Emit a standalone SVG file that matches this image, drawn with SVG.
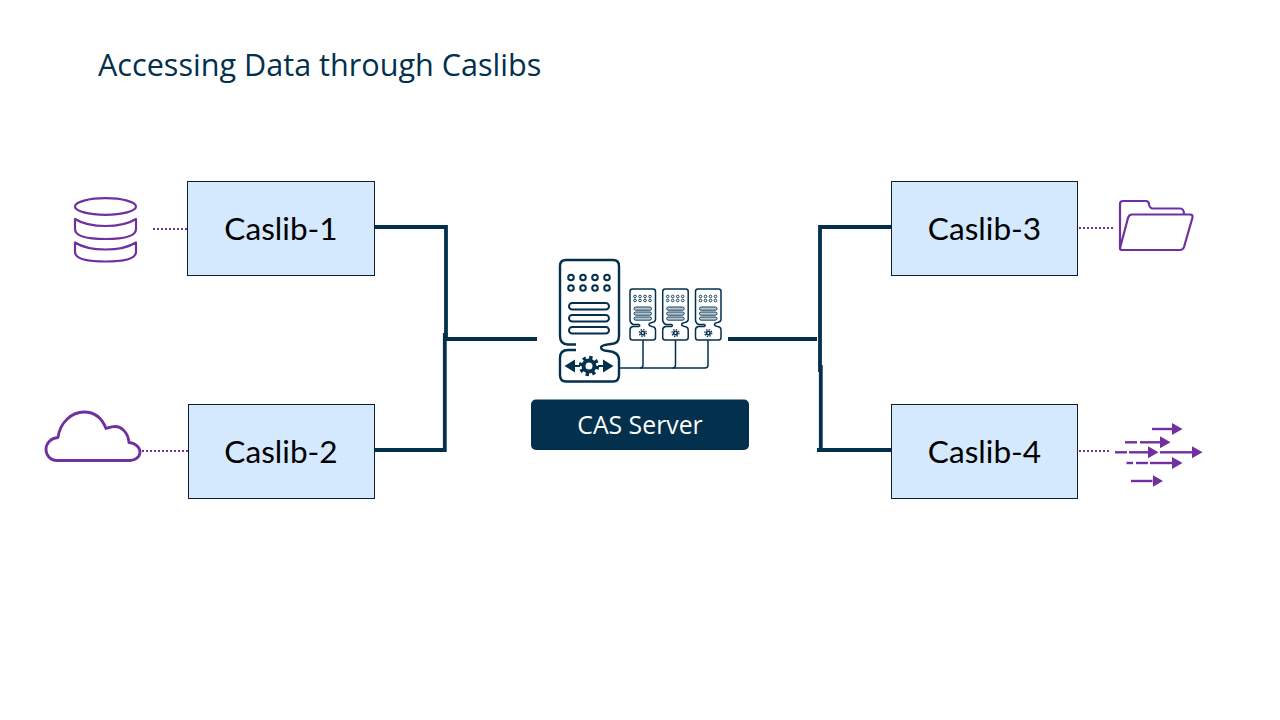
<svg xmlns="http://www.w3.org/2000/svg" xmlns:xlink="http://www.w3.org/1999/xlink" width="1280" height="720" viewBox="0 0 1280 720">
<style>
.box{fill:#d5e9fe;stroke:#0c1f2c;stroke-width:1}
.lbl{font-family:"Lato","Open Sans",sans-serif;font-size:31.6px;fill:#000;text-anchor:middle}
.title{font-family:"Open Sans","Noto Sans",sans-serif;font-size:30.6px;fill:#03304d}
.cas{font-family:"Open Sans","Noto Sans",sans-serif;font-size:24.8px;fill:#fff;text-anchor:middle}
.conn{fill:none;stroke:#03304d;stroke-width:3.8}
.dot{fill:none;stroke:#7030a0;stroke-width:2;stroke-dasharray:2 2}
.pi{fill:none;stroke:#7030a0;stroke-width:2.2;stroke-linejoin:round;stroke-linecap:round}
.pa{fill:none;stroke:#7030a0;stroke-width:2.4}
.srv{fill:none;stroke:#03304d;stroke-width:2.4;stroke-linejoin:round}
.thin{fill:none;stroke:#03304d;stroke-width:1.5;stroke-linejoin:round}
</style>
<defs>
<marker id="ah" markerUnits="userSpaceOnUse" markerWidth="11" markerHeight="13" refX="0" refY="6" orient="auto"><path d="M0,0L10.5,6L0,12Z" fill="#7030a0"/></marker>
<g id="mini">
<path class="thin" d="M2.500,0H23Q25.500,0 25.500,2.500V30Q25.500,33 22,33.500Q19,34 19,35.500Q19,37 22,37.500Q25.500,38 25.500,41V48.500Q25.500,51 23,51H2.500Q0,51 0,48.500V41Q0,38 3,37.500H9Q10.500,36.500 9,35.500H3Q0,34 0,31V2.500Q0,0 2.500,0Z"/>
<g fill="none" stroke="#03304d" stroke-width="0.9"><circle cx="5" cy="7.500" r="1.300"/><circle cx="10" cy="7.500" r="1.300"/><circle cx="15" cy="7.500" r="1.300"/><circle cx="20" cy="7.500" r="1.300"/><circle cx="5" cy="11.500" r="1.300"/><circle cx="10" cy="11.500" r="1.300"/><circle cx="15" cy="11.500" r="1.300"/><circle cx="20" cy="11.500" r="1.300"/></g>
<g fill="#b9c8d2" stroke="#03304d" stroke-width="0.9"><rect x="4" y="18" width="17.500" height="3.200" rx="1.600"/><rect x="4" y="23" width="17.500" height="3.200" rx="1.600"/><rect x="4" y="28" width="17.500" height="3.200" rx="1.600"/></g>
<circle cx="12.800" cy="44" r="2.600" fill="#03304d"/>
<circle cx="12.800" cy="44" r="1" fill="#fff"/>
<circle cx="12.800" cy="44" r="3.500" fill="none" stroke="#03304d" stroke-width="1.200" stroke-dasharray="1.400 1.350"/>
</g>
</defs>

<text class="title" x="98" y="75.500">Accessing Data through Caslibs</text>

<g id="connectors">
<path class="conn" d="M375,227H446V339"/>
<path class="conn" d="M444.800,333V450H375"/>
<path class="conn" d="M446,339H537"/>
<path class="conn" d="M891,227H820V372"/>
<path class="conn" d="M820.800,365V450"/>
<path class="conn" d="M817,450H891"/>
<path class="conn" d="M728,339H817"/>
<path class="dot" d="M153,229H187"/>
<path class="dot" d="M142,451H188"/>
<path class="dot" d="M1079,228H1114"/>
<path class="dot" d="M1079,451H1110"/>
<path class="thin" d="M619,368H705Q708,368 708,365V340"/>
<path class="thin" d="M643,340V365Q643,368 640,368"/>
<path class="thin" d="M675.500,340V365Q675.500,368 672.500,368"/>
</g>

<g id="caslib-1"><rect class="box" x="187.500" y="181.500" width="187" height="94"/><text class="lbl" x="281" y="240">Caslib-1</text></g>
<g id="caslib-2"><rect class="box" x="188.500" y="404.500" width="186" height="94"/><text class="lbl" x="281" y="463">Caslib-2</text></g>
<g id="caslib-3"><rect class="box" x="891.500" y="181.500" width="186" height="94"/><text class="lbl" x="984.500" y="240">Caslib-3</text></g>
<g id="caslib-4"><rect class="box" x="891.500" y="404.500" width="186" height="94"/><text class="lbl" x="984.500" y="463">Caslib-4</text></g>

<g id="cas-server">
<rect x="531" y="399.500" width="218" height="50.500" rx="5" fill="#03304d"/>
<text class="cas" x="640" y="433.500">CAS Server</text>
<path class="srv" d="M566,260H613Q619,260 619,266V336Q619,344 611,344Q601,345 601,347.500Q601,350.500 608,351Q619,352 619,360V375Q619,381.500 613,381.500H566Q560,381.500 560,375V358Q560,350 568,350H576"/>
<path class="srv" d="M576,344.500H568Q560,344.500 560,336V266Q560,260 566,260"/>
<g fill="none" stroke="#03304d" stroke-width="2"><circle cx="571" cy="277.500" r="2.800"/><circle cx="583" cy="277.500" r="2.800"/><circle cx="595" cy="277.500" r="2.800"/><circle cx="607" cy="277.500" r="2.800"/><circle cx="571" cy="288" r="2.800"/><circle cx="583" cy="288" r="2.800"/><circle cx="595" cy="288" r="2.800"/><circle cx="607" cy="288" r="2.800"/></g>
<g fill="none" stroke="#03304d" stroke-width="2"><rect x="569" y="303" width="40" height="6.500" rx="3.250"/><rect x="569" y="315" width="40" height="6.500" rx="3.250"/><rect x="569" y="327" width="40" height="6.500" rx="3.250"/></g>
<circle cx="589" cy="366" r="5.500" fill="none" stroke="#03304d" stroke-width="4"/>
<circle cx="589" cy="366" r="8.500" fill="none" stroke="#03304d" stroke-width="3.400" stroke-dasharray="3.300 3.370"/>
<path d="M564.500,366L575,359.500V372.500Z" fill="#03304d"/>
<path d="M613.500,366L603,359.500V372.500Z" fill="#03304d"/>
<path d="M574,366H580M598,366H604" stroke="#03304d" stroke-width="2"/>
<use xlink:href="#mini" href="#mini" x="630" y="289"/>
<use xlink:href="#mini" href="#mini" x="662.700" y="289"/>
<use xlink:href="#mini" href="#mini" x="695.500" y="289"/>
</g>

<g id="database-icon">
<ellipse class="pi" cx="105.500" cy="206.500" rx="30.500" ry="8.300"/>
<path class="pi" d="M75,219V229Q75,239 105.500,239Q136,239 136,229V219M75,219Q86,226 105.500,226Q125,226 136,219"/>
<path class="pi" d="M75,242.500V252Q75,261.500 105.500,261.500Q136,261.500 136,252V242.500M75,242.500Q86,249.500 105.500,249.500Q125,249.500 136,242.500"/>
</g>

<g id="cloud-icon">
<path class="pi" style="stroke-width:2.800" d="M57,460.500C50,460.500 46,455 46,449.500C46,443 51,438 58,437.500C60,422 72,412 84,412C94,412 102,418 106,428.500C108,428 111,426.500 115,426.500C122,426.500 128,433 129,442.500C135,443 140,447 140,452C140,457 135,460.500 130,460.500Z"/>
</g>

<g id="folder-icon">
<path class="pi" d="M1120,249V204Q1120,201 1123,201H1146Q1148.500,201 1149,204Q1149.500,208.500 1153,208.500H1180Q1184,208.500 1184,214"/>
<path class="pi" d="M1120,248L1128,218Q1129,214.500 1132,214.500H1190Q1193,214.500 1192.500,217.500L1184,247Q1183,250 1180,250H1122Q1120,250 1120,248Z"/>
</g>

<g id="stream-icon">
<path class="pa" marker-end="url(#ah)" d="M1152,429H1172"/>
<path class="pa" d="M1125,442.300H1137"/>
<path class="pa" marker-end="url(#ah)" d="M1140,442.300H1160"/>
<path class="pa" d="M1115,452.300H1127"/>
<path class="pa" marker-end="url(#ah)" d="M1129,452.300H1148"/>
<path class="pa" marker-end="url(#ah)" d="M1160,452.300H1192"/>
<path class="pa" d="M1126.500,463H1133"/>
<path class="pa" d="M1136,463H1148"/>
<path class="pa" marker-end="url(#ah)" d="M1150,463H1172"/>
<path class="pa" marker-end="url(#ah)" d="M1131,481H1152.500"/>
</g>
</svg>
